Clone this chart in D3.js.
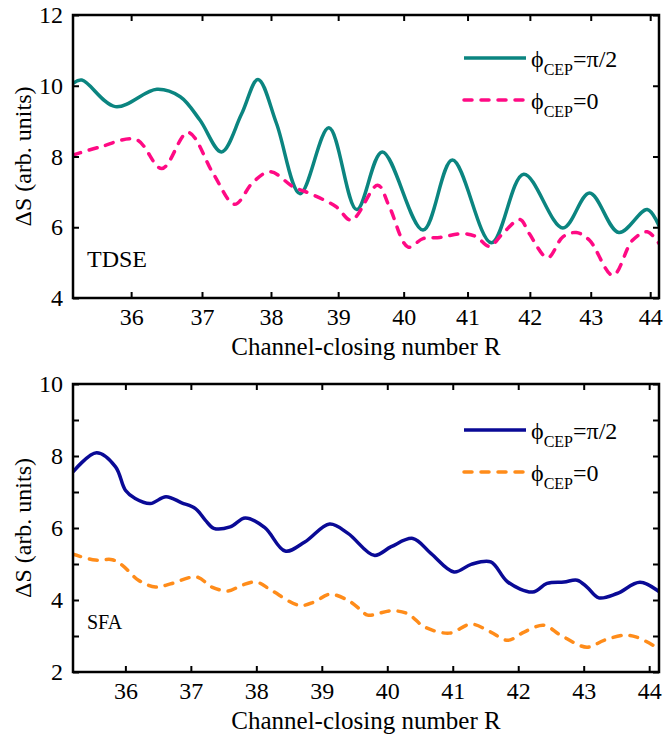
<!DOCTYPE html>
<html>
<head>
<meta charset="utf-8">
<script src="https://cdn.jsdelivr.net/npm/d3@7"></script>
<style>
  body { margin: 0; background: #fff; }
</style>
</head>
<body>
<div id="chart"></div>
<script>
// TDSE panel (top)
const tdsePi2R = [35.2, 35.32, 35.78, 36.36, 36.69, 36.97, 37.28, 37.57, 37.81, 38.08, 38.43, 38.86, 39.28, 39.67, 40.30, 40.76, 41.38, 41.90, 42.54, 42.98, 43.47, 43.95, 44.17];
const tdsePi2S = [10.07, 10.16, 9.41, 9.90, 9.69, 9.03, 8.13, 9.20, 10.18, 8.94, 6.95, 8.81, 6.50, 8.13, 5.92, 7.90, 5.56, 7.50, 5.98, 6.97, 5.85, 6.50, 5.96];
const tdseZeroR = [35.2, 35.57, 36.07, 36.43, 36.80, 37.16, 37.47, 37.74, 37.99, 38.33, 38.58, 38.97, 39.20, 39.60, 39.78, 40.07, 40.30, 40.56, 40.93, 41.14, 41.35, 41.56, 41.84, 41.99, 42.29, 42.54, 42.76, 42.98, 43.37, 43.70, 43.95, 44.15];
const tdseZeroS = [8.04, 8.27, 8.48, 7.66, 8.68, 7.52, 6.65, 7.28, 7.57, 7.14, 6.95, 6.58, 6.20, 7.19, 6.58, 5.44, 5.68, 5.71, 5.82, 5.73, 5.46, 5.82, 6.22, 5.82, 5.14, 5.73, 5.85, 5.63, 4.64, 5.63, 5.87, 5.54];

// SFA panel (bottom)
const sfaPi2R = [35.2, 35.56, 35.85, 36.0, 36.15, 36.38, 36.62, 36.86, 37.07, 37.22, 37.35, 37.60, 37.83, 38.13, 38.44, 38.74, 39.12, 39.40, 39.80, 40.06, 40.39, 40.67, 41.02, 41.28, 41.58, 41.84, 42.22, 42.44, 42.70, 42.90, 43.05, 43.23, 43.51, 43.86, 44.19];
const sfaPi2S = [7.56, 8.09, 7.70, 7.05, 6.82, 6.68, 6.87, 6.70, 6.54, 6.22, 5.99, 6.03, 6.28, 6.01, 5.36, 5.61, 6.11, 5.85, 5.24, 5.48, 5.71, 5.29, 4.78, 4.99, 5.06, 4.50, 4.22, 4.46, 4.50, 4.55, 4.36, 4.06, 4.18, 4.49, 4.18];
const sfaZeroR = [35.2, 35.54, 35.80, 35.95, 36.20, 36.46, 36.71, 37.09, 37.32, 37.57, 37.78, 38.00, 38.23, 38.66, 38.89, 39.12, 39.40, 39.60, 39.70, 40.06, 40.31, 40.57, 40.95, 41.28, 41.58, 41.84, 42.09, 42.39, 42.65, 43.05, 43.31, 43.61, 43.81, 44.09];
const sfaZeroS = [5.27, 5.11, 5.12, 4.97, 4.55, 4.36, 4.46, 4.64, 4.36, 4.25, 4.41, 4.50, 4.27, 3.85, 3.95, 4.16, 3.99, 3.72, 3.58, 3.70, 3.62, 3.25, 3.08, 3.33, 3.11, 2.88, 3.11, 3.30, 3.02, 2.69, 2.88, 3.02, 2.97, 2.71];

const xTicks = [36, 37, 38, 39, 40, 41, 42, 43, 44];
const xDomain = [35.2, 44.15];
const xLabel = "Channel-closing number R";
const yLabel = "\u0394S (arb. units)";

const width = 663;
const height = 737;
const serif = "'Liberation Serif', 'Times New Roman', Times, 'DejaVu Serif', serif";

const svg = d3.select("#chart").append("svg")
    .attr("width", width)
    .attr("height", height)
    .attr("viewBox", [0, 0, width, height])
    .style("font-family", serif);

function drawPanel(p) {
    const left = 73, right = 659;
    // top panel axis is logarithmic in R, bottom one linear
    const x = (p.logX ? d3.scaleLog() : d3.scaleLinear())
        .domain(xDomain)
        .range([left, right]);
    const y = d3.scaleLinear()
        .domain(p.yDomain)
        .range([p.bottom, p.top]);

    const g = svg.append("g");
    const clipId = "clip-" + p.name;
    g.append("clipPath").attr("id", clipId)
      .append("rect")
        .attr("x", left).attr("y", p.top)
        .attr("width", right - left).attr("height", p.bottom - p.top);

    // curves
    const line = d3.line()
        .x(d => x(d[0]))
        .y(d => y(d[1]))
        .curve(d3.curveCatmullRom.alpha(0.5));

    p.series.forEach(s => {
        g.append("path")
            .attr("clip-path", `url(#${clipId})`)
            .attr("d", line(d3.zip(s.r, s.v)))
            .attr("fill", "none")
            .attr("stroke", s.color)
            .attr("stroke-width", 3.5)
            .attr("stroke-linecap", s.dash ? "round" : "butt")
            .attr("stroke-dasharray", s.dash || null);
    });

    // axes with inward ticks
    const tickLen = 6;
    const styleAxis = a => {
        a.attr("font-family", null);
        a.select(".domain").remove();
        a.selectAll(".tick line").attr("stroke", "#000").attr("stroke-width", 2);
        a.selectAll("text")
            .style("font-family", serif)
            .style("font-size", "24px")
            .attr("fill", "#000");
    };

    g.append("g")
        .attr("transform", `translate(0,${p.bottom})`)
        .call(d3.axisBottom(x).tickValues(xTicks).tickFormat(d3.format("d")).tickSize(-tickLen).tickPadding(9))
        .call(styleAxis)
        .call(a => a.selectAll("text").attr("y", 0).attr("dy", 27));
    g.append("g")
        .attr("transform", `translate(0,${p.top})`)
        .call(d3.axisTop(x).tickValues(xTicks).tickSize(-tickLen).tickFormat(""))
        .call(styleAxis);

    const yAxis = d3.axisLeft(y).tickValues(p.yTicks).tickSize(-tickLen).tickPadding(10).tickFormat(d3.format("d"));
    g.append("g")
        .attr("transform", `translate(${left},0)`)
        .call(yAxis)
        .call(styleAxis);
    g.append("g")
        .attr("transform", `translate(${right},0)`)
        .call(d3.axisRight(y).tickValues(p.yTicks).tickSize(-tickLen).tickFormat(""))
        .call(styleAxis);

    if (p.yMinor) {
        g.append("g")
            .attr("transform", `translate(${left},0)`)
            .call(d3.axisLeft(y).tickValues(p.yMinor).tickSize(-tickLen).tickFormat(""))
            .call(styleAxis);
        g.append("g")
            .attr("transform", `translate(${right},0)`)
            .call(d3.axisRight(y).tickValues(p.yMinor).tickSize(-tickLen).tickFormat(""))
            .call(styleAxis);
    }

    // frame
    g.append("rect")
        .attr("x", left).attr("y", p.top)
        .attr("width", right - left).attr("height", p.bottom - p.top)
        .attr("fill", "none")
        .attr("stroke", "#000")
        .attr("stroke-width", 2.5);

    // axis titles
    g.append("text")
        .attr("x", (left + right) / 2)
        .attr("y", p.bottom + 57)
        .attr("text-anchor", "middle")
        .style("font-family", serif)
        .style("font-size", "25px")
        .text(xLabel);
    g.append("text")
        .attr("transform", `translate(31,${(p.top + p.bottom) / 2}) rotate(-90)`)
        .attr("text-anchor", "middle")
        .style("font-family", serif)
        .style("font-size", "24px")
        .text(yLabel);

    // panel tag
    g.append("text")
        .attr("x", 87)
        .attr("y", p.tagY)
        .style("font-family", serif)
        .style("font-size", p.tagSize + "px")
        .text(p.tag);

    // legend
    p.series.forEach((s, i) => {
        const ly = p.legendY + i * 42;
        g.append("line")
            .attr("x1", 464).attr("x2", 526)
            .attr("y1", ly).attr("y2", ly)
            .attr("stroke", s.color)
            .attr("stroke-width", 3.5)
            .attr("stroke-linecap", s.dash ? "round" : "butt")
            .attr("stroke-dasharray", s.dash || null);
        const t = g.append("text")
            .attr("x", 531)
            .attr("y", ly + 9)
            .style("font-family", serif)
            .style("font-size", "24px");
        t.append("tspan").text("\u03d5");
        t.append("tspan").attr("dy", 8).style("font-size", "16px").text("CEP");
        t.append("tspan").attr("dy", -8).text(s.label);
    });
}

drawPanel({
    name: "tdse",
    top: 15,
    bottom: 298,
    logX: true,
    yDomain: [4, 12],
    yTicks: [4, 6, 8, 10, 12],
    tag: "TDSE",
    tagY: 267,
    tagSize: 24,
    legendY: 58,
    series: [
        { r: tdsePi2R, v: tdsePi2S, color: "#0b8580", label: "=\u03c0/2" },
        { r: tdseZeroR, v: tdseZeroS, color: "#ff0a84", dash: "8,9", label: "=0" }
    ]
});

drawPanel({
    name: "sfa",
    top: 384,
    bottom: 672,
    logX: false,
    yDomain: [2, 10],
    yTicks: [2, 4, 6, 8, 10],
    yMinor: [3, 5, 7, 9],
    tag: "SFA",
    tagY: 629,
    tagSize: 20,
    legendY: 430,
    series: [
        { r: sfaPi2R, v: sfaPi2S, color: "#0a0a96", label: "=\u03c0/2" },
        { r: sfaZeroR, v: sfaZeroS, color: "#ff8c1a", dash: "8,9", label: "=0" }
    ]
});
</script>
</body>
</html>
